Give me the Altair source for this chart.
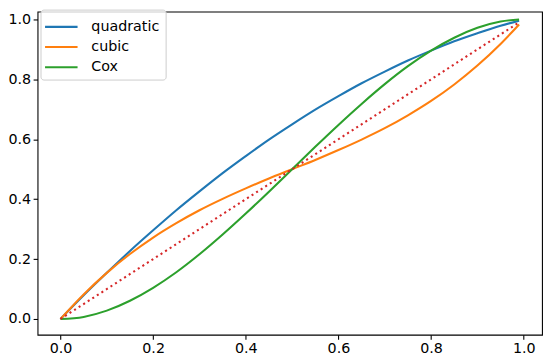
import altair as alt
import pandas as pd

# ---- data ----
x_vals = [0.0, 0.05, 0.10, 0.15, 0.20, 0.25, 0.30, 0.35, 0.40, 0.45, 0.50,
          0.55, 0.60, 0.65, 0.70, 0.75, 0.80, 0.85, 0.90, 0.95, 0.99]
quadratic = [0.000, 0.079, 0.154, 0.227, 0.296, 0.363, 0.426, 0.487, 0.544, 0.599, 0.650,
             0.699, 0.744, 0.787, 0.826, 0.863, 0.896, 0.927, 0.954, 0.979, 0.996]
cubic = [0.000, 0.082, 0.154, 0.217, 0.272, 0.320, 0.363, 0.401, 0.436, 0.469, 0.500,
         0.531, 0.564, 0.599, 0.637, 0.680, 0.728, 0.783, 0.846, 0.918, 0.983]
cox = [0.000, 0.007, 0.028, 0.061, 0.104, 0.156, 0.216, 0.282, 0.352, 0.425, 0.500,
       0.575, 0.648, 0.718, 0.784, 0.844, 0.896, 0.939, 0.972, 0.993, 1.000]
diag_x = [0.0, 0.99]
diag_y = [0.0, 0.99]

series_names = ["quadratic", "cubic", "Cox"]
series_colors = ["#1f77b4", "#ff7f0e", "#2ca02c"]
diag_color = "#d62728"
x_ticks = [0.0, 0.2, 0.4, 0.6, 0.8, 1.0]
y_ticks = [0.0, 0.2, 0.4, 0.6, 0.8, 1.0]

FONT = "DejaVu Sans"

xscale = alt.Scale(domain=[-0.0495, 1.0395], nice=False, zero=False)
yscale = alt.Scale(domain=[-0.0526, 1.0263], nice=False, zero=False)
cscale = alt.Scale(domain=series_names, range=series_colors)

axis_common = dict(title=None, grid=False, domain=False, format=".1f",
                   tickSize=4.5, tickWidth=1.1, tickColor="#000000",
                   labelFont=FONT, labelFontSize=14.5, labelColor="#000000")
xaxis = alt.Axis(values=x_ticks, labelPadding=3, **axis_common)
yaxis = alt.Axis(values=y_ticks, labelPadding=2.5, **axis_common)

legend = alt.Legend(title=None, orient="none", legendX=3, legendY=-2,
                    symbolType="M-1.65,0H1.65", symbolSize=400, symbolStrokeWidth=2.1,
                    symbolOffset=3.6,
                    labelFont=FONT, labelFontSize=14.5, labelColor="#000000",
                    labelOffset=19, rowPadding=2.5, padding=6,
                    fillColor="rgba(255,255,255,0.8)", strokeColor="#cccccc",
                    cornerRadius=3)

layers = []
for name, vals in zip(series_names, [quadratic, cubic, cox]):
    df = pd.DataFrame({"x": x_vals, "y": vals, "series": [name] * len(x_vals)})
    layers.append(
        alt.Chart(df).mark_line(strokeWidth=2.1, interpolate="monotone").encode(
            x=alt.X("x:Q", scale=xscale, axis=xaxis),
            y=alt.Y("y:Q", scale=yscale, axis=yaxis),
            color=alt.Color("series:N", scale=cscale, legend=legend),
        )
    )

diag_df = pd.DataFrame({"x": diag_x, "y": diag_y})
diag = alt.Chart(diag_df).mark_line(
    strokeWidth=2.1, color=diag_color, strokeDash=[2.1, 3.4], strokeCap="butt"
).encode(
    x=alt.X("x:Q", scale=xscale, axis=xaxis),
    y=alt.Y("y:Q", scale=yscale, axis=yaxis),
)
layers.append(diag)

chart = alt.layer(*layers).properties(
    width=512, height=328,
    autosize=alt.AutoSizeParams(type="none"),
    padding={"left": 30, "top": 1, "right": 2, "bottom": 23},
    background="white",
).configure_view(stroke="#000000", strokeWidth=1.1)

chart.save("out.html", embed_options={"renderer": "svg", "actions": False})
